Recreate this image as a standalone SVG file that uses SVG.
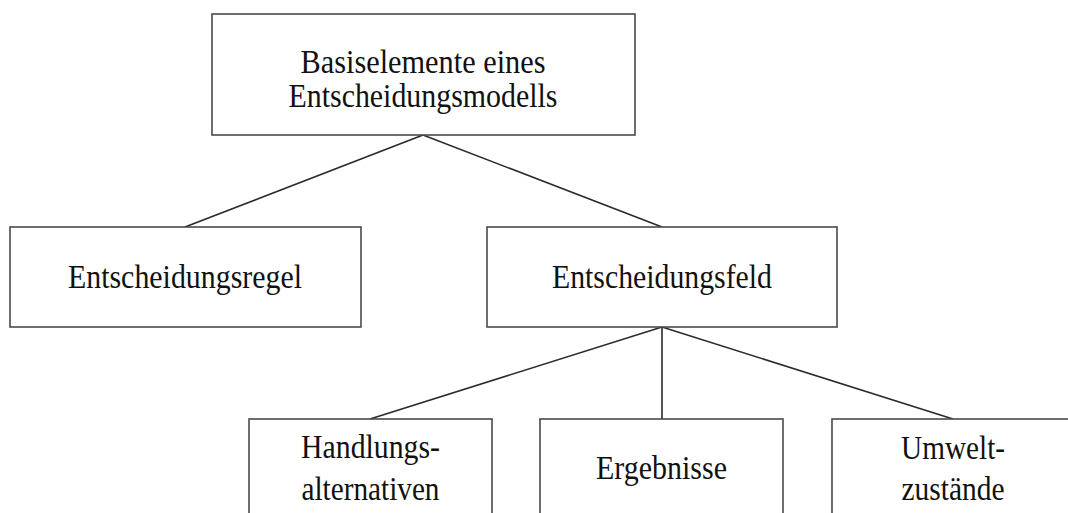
<svg xmlns="http://www.w3.org/2000/svg" width="1068" height="513" viewBox="0 0 1068 513">
<style>
.box{fill:#fff;stroke:#4a4a4a;stroke-width:1.6}
.lbl{font-family:"Liberation Serif","Times New Roman",serif;font-size:34px;fill:#111;text-anchor:middle}
.con line{stroke:#2a2a2a;stroke-width:1.6}
</style>
<rect width="1068" height="513" fill="#fff"/>
<g id="connectors" class="con">
<line x1="423" y1="135" x2="185" y2="227"/>
<line x1="423" y1="135" x2="662" y2="227"/>
<line x1="662" y1="327" x2="370" y2="419"/>
<line x1="662" y1="327" x2="662" y2="419"/>
<line x1="662" y1="327" x2="953" y2="419"/>
</g>
<g id="root">
<rect class="box" x="212" y="14" width="423" height="121"/>
<text class="lbl" x="423" y="73" textLength="245" lengthAdjust="spacingAndGlyphs">Basiselemente eines</text>
<text class="lbl" x="423" y="107" textLength="269" lengthAdjust="spacingAndGlyphs">Entscheidungsmodells</text>
</g>
<g id="regel">
<rect class="box" x="10" y="227" width="351" height="100"/>
<text class="lbl" x="185" y="288" textLength="234" lengthAdjust="spacingAndGlyphs">Entscheidungsregel</text>
</g>
<g id="feld">
<rect class="box" x="487" y="227" width="350" height="100"/>
<text class="lbl" x="662" y="288" textLength="220" lengthAdjust="spacingAndGlyphs">Entscheidungsfeld</text>
</g>
<g id="handlung">
<rect class="box" x="249" y="419" width="243" height="120"/>
<text class="lbl" x="370.5" y="458" textLength="139" lengthAdjust="spacingAndGlyphs">Handlungs-</text>
<text class="lbl" x="370.5" y="500" textLength="138" lengthAdjust="spacingAndGlyphs">alternativen</text>
</g>
<g id="ergebnisse">
<rect class="box" x="540" y="419" width="243" height="120"/>
<text class="lbl" x="661.5" y="479" textLength="131" lengthAdjust="spacingAndGlyphs">Ergebnisse</text>
</g>
<g id="umwelt">
<rect class="box" x="832" y="419" width="243" height="120"/>
<text class="lbl" x="953" y="459" textLength="104" lengthAdjust="spacingAndGlyphs">Umwelt-</text>
<text class="lbl" x="953" y="500" textLength="103" lengthAdjust="spacingAndGlyphs">zustände</text>
</g>
</svg>
